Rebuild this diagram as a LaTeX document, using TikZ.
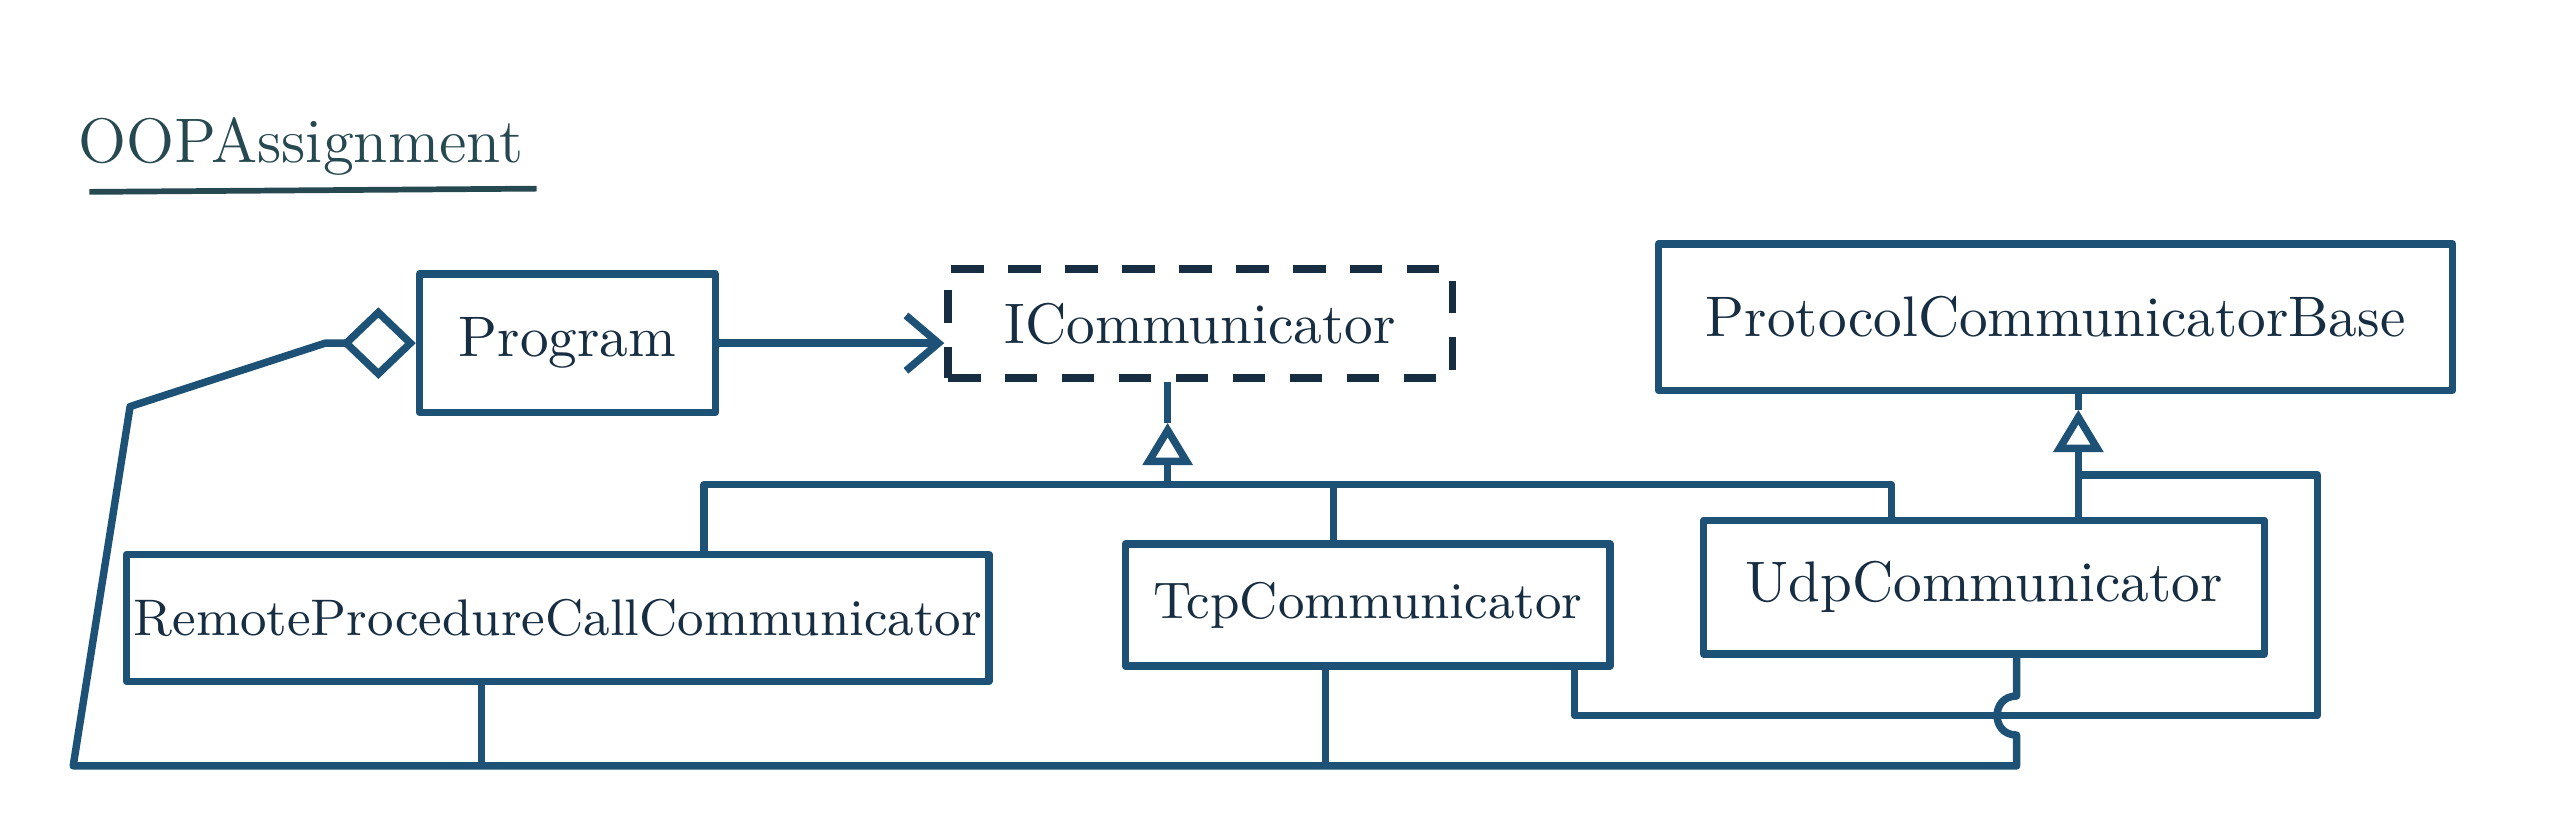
\documentclass[tikz,border=0pt]{standalone}
\usepackage{tikz}
\usetikzlibrary{arrows.meta}
\definecolor{ink}{RGB}{29,82,118}
\definecolor{inkdark}{RGB}{22,45,66}
\definecolor{inktitle}{RGB}{38,72,80}
\tikzset{classbox/.style={draw=ink, rectangle, inner sep=0pt, text=inkdark, font=\fontsize{10}{12}\selectfont}}
\tikzset{iface/.style={classbox, draw=inkdark, dash pattern=on 0.2cm off 0.15cm}}
\tikzset{dep/.style={-{Straight Barb[length=2mm,width=3.4mm]}}}
\tikzset{real/.style={-{Triangle[open,length=2.6mm,width=3mm]}}}
\tikzset{aggr/.style={{Diamond[open,length=4.6mm,width=4.4mm]}-}}

\begin{document}
\begin{tikzpicture}[x=0.01cm,y=-0.01cm,line width=1.3pt,color=ink,line join=round]
		\useasboundingbox (0,0) rectangle (1568,513);
		% title
		\node[text=inktitle, font=\fontsize{11}{13}\selectfont] (ttl) at (185,90) {OOPAssignment};
		\coordinate (ulL) at (55,118);
		\coordinate (ulR) at (330,116);
		\draw[inktitle, line width=1pt] (ulL) -- (ulR);
		% classes
		\node[classbox, minimum width=1.82cm, minimum height=0.85cm] (prog) at (349,211) {Program};
		\node[iface, minimum width=3.10cm, minimum height=0.67cm] (icomm) at (738,199) {ICommunicator};
		\node[classbox, minimum width=4.88cm, minimum height=0.90cm] (pcb) at (1264,195) {ProtocolCommunicatorBase};
		\node[classbox, font=\fontsize{9}{11}\selectfont, minimum width=5.30cm, minimum height=0.78cm] (rpc) at (343,380) {RemoteProcedureCallCommunicator};
		\node[classbox, font=\fontsize{9}{11}\selectfont, minimum width=2.98cm, minimum height=0.75cm] (tcp) at (841,372) {TcpCommunicator};
		\node[classbox, minimum width=3.45cm, minimum height=0.82cm] (udp) at (1220,361) {UdpCommunicator};
		% Program uses ICommunicator
		\draw[dep] (prog.east) -- (prog.east -| icomm.west);
		% realisation of ICommunicator
		\coordinate (icTip) at (718,260);
		\coordinate (icBar) at (718,298);
		\coordinate (barL) at (433,298);
		\coordinate (barT) at (820,298);
		\coordinate (barR) at (1163,298);
		\draw (icomm.south -| icTip) -- (icTip);
		\draw[real] (icBar) -- (icTip);
		\draw (rpc.north -| barL) -- (barL) -- (barR) -- (udp.north -| barR);
		\draw (tcp.north -| barT) -- (barT);
		% ProtocolCommunicatorBase
		\coordinate (pcbTip) at (1278,252);
		\coordinate (pcbJ) at (1278,292);
		\coordinate (loopA) at (1425,292);
		\coordinate (loopB) at (1425,440);
		\coordinate (loopC) at (968,440);
		\draw (pcb.south -| pcbTip) -- (pcbTip);
		\draw[real] (udp.north -| pcbTip) -- (pcbTip);
		\draw (pcbJ) -- (loopA) -- (loopB) -- (loopC) -- (tcp.south -| loopC);
		% aggregation bus back to Program
		\coordinate (aggD) at (200,211);
		\coordinate (aggA) at (80,250);
		\coordinate (aggB) at (45,471);
		\coordinate (busRpc) at (296,471);
		\coordinate (busTcp) at (815,471);
		\coordinate (busR) at (1240,471);
		\coordinate (hopB) at (1240,452);
		\coordinate (hopT) at (1240,428);
		\draw[aggr] (prog.west) -- (aggD) -- (aggA) -- (aggB) -- (busR) -- (hopB)
			.. controls (1224,452) and (1224,428) .. (hopT) -- (udp.south -| busR);
		\draw (rpc.south -| busRpc) -- (busRpc);
		\draw (tcp.south -| busTcp) -- (busTcp);
\end{tikzpicture}
\end{document}
